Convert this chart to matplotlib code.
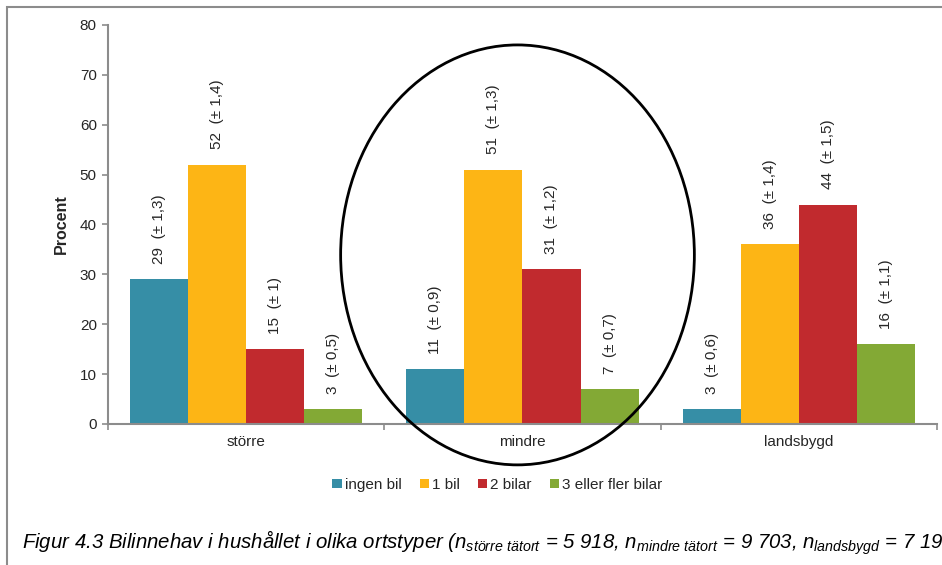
import numpy as np
import matplotlib.pyplot as plt
from matplotlib.patches import Ellipse, Rectangle

plt.rcParams['font.family'] = ['Liberation Sans', 'DejaVu Sans']
plt.rcParams['mathtext.fontset'] = 'custom'
plt.rcParams['mathtext.it'] = 'Liberation Sans:italic'
plt.rcParams['mathtext.rm'] = 'Liberation Sans:italic'

# Bilinnehav per ortstyp (procent) och felmarginaler
ortstyper = ['större', 'mindre', 'landsbygd']
serier = ['ingen bil', '1 bil', '2 bilar', '3 eller fler bilar']
ingen_bil = [29, 11, 3]
en_bil = [52, 51, 36]
tva_bilar = [15, 31, 44]
tre_plus = [3, 7, 16]
fel_ingen = ['1,3', '0,9', '0,6']
fel_en = ['1,4', '1,3', '1,4']
fel_tva = ['1', '1,2', '1,5']
fel_tre = ['0,5', '0,7', '1,1']

varden = [ingen_bil, en_bil, tva_bilar, tre_plus]
felmarg = [fel_ingen, fel_en, fel_tva, fel_tre]
farger = ['#368EA6', '#FDB515', '#C12A2E', '#83A935']
textfarg = '#262626'
axelfarg = '#8C8C8C'

fig = plt.figure(figsize=(9.42, 5.65), dpi=100)
ax = fig.add_axes([0.1146, 0.2496, 0.8801, 0.7062])

x = np.arange(len(ortstyper))
bredd = 0.21
for i, (vals, fel) in enumerate(zip(varden, felmarg)):
    pos = x + (i - 1.5) * bredd
    ax.bar(pos, vals, width=bredd, color=farger[i], label=serier[i], zorder=2)
    for px, v, f in zip(pos, vals, fel):
        ax.annotate(f'{v}  (± {f})', (px, v), xytext=(0, 11), textcoords='offset points',
                    rotation=90, ha='center', va='bottom', fontsize=11, color=textfarg)

ax.set_xlim(-0.5, 2.5)
ax.set_ylim(0, 80)
ax.set_yticks(range(0, 81, 10))
ax.set_xticks([-0.5, 0.5, 1.5, 2.5], minor=False)
ax.set_xticklabels([])
ax.set_xticks(x, minor=True)
ax.set_xticklabels(ortstyper, minor=True)
ax.tick_params(axis='x', which='minor', length=0, pad=8, labelsize=11, labelcolor=textfarg)
ax.tick_params(axis='x', which='major', length=4, width=1.2, color=axelfarg, direction='out')
ax.tick_params(axis='y', length=4, width=1.2, color=axelfarg, direction='out',
               labelsize=11, labelcolor=textfarg, pad=4)
for side in ['top', 'right']:
    ax.spines[side].set_visible(False)
for side in ['left', 'bottom']:
    ax.spines[side].set_color(axelfarg)
    ax.spines[side].set_linewidth(1.5)
ax.set_ylabel('Procent', fontsize=11.5, fontweight='bold', color=textfarg, labelpad=8)

# markering kring mindre tätorter
ax.add_patch(Ellipse((0.982, 33.9), 1.28, 84.2, fill=False, edgecolor='black',
                     linewidth=2, clip_on=False, zorder=5))

ax.legend(loc='center', bbox_to_anchor=(0.470, -0.153), ncol=4, frameon=False,
          fontsize=11, handlelength=0.6, handleheight=0.6, handletextpad=0.2,
          columnspacing=1.2, labelcolor=textfarg)

# ram runt diagrammet
fig.patches.append(Rectangle((7 / 942, -0.1), 1.1, 1.1 - 7 / 565, fill=False,
                             edgecolor='#8C8C8C', linewidth=1.5,
                             transform=fig.transFigure, figure=fig))

fig.text(22 / 942, 1 - 543 / 565,
         r'Figur 4.3 Bilinnehav i hushållet i olika ortstyper ($n_{större\ tätort}$ = 5 918, '
         r'$n_{mindre\ tätort}$ = 9 703, $n_{landsbygd}$ = 7 19',
         fontsize=14.7, style='italic', color='black', va='center', ha='left')

fig.savefig('out.png', dpi=100)
